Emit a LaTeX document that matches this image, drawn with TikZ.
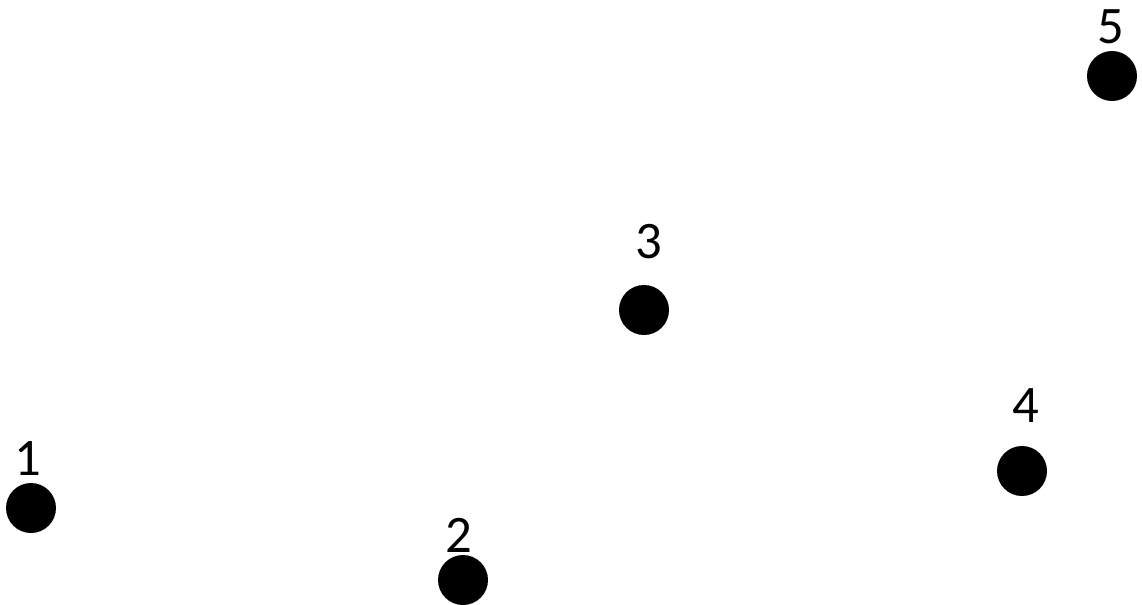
\documentclass[tikz,border=0pt]{standalone}
\usepackage{fontspec}
\setmainfont{Carlito}
\begin{document}
\begin{tikzpicture}[
  vertex/.style={circle, fill=black, inner sep=0pt, minimum size=1cm},
  vlabel/.style={inner sep=0pt, font=\fontsize{30}{36}\selectfont}
]
\useasboundingbox (0,0) rectangle (22.84,12.08);
% points
\node[vertex] (p1) at (0.62,1.92) {};
\node[vertex] (p2) at (9.26,0.48) {};
\node[vertex] (p3) at (12.88,5.88) {};
\node[vertex] (p4) at (20.44,2.66) {};
\node[vertex] (p5) at (22.24,10.56) {};
% numbers
\node[vlabel] (l1) at (0.56,2.90) {1};
\node[vlabel] (l2) at (9.18,1.38) {2};
\node[vlabel] (l3) at (12.98,7.24) {3};
\node[vlabel] (l4) at (20.52,3.96) {4};
\node[vlabel] (l5) at (22.22,11.54) {5};
\end{tikzpicture}
\end{document}
